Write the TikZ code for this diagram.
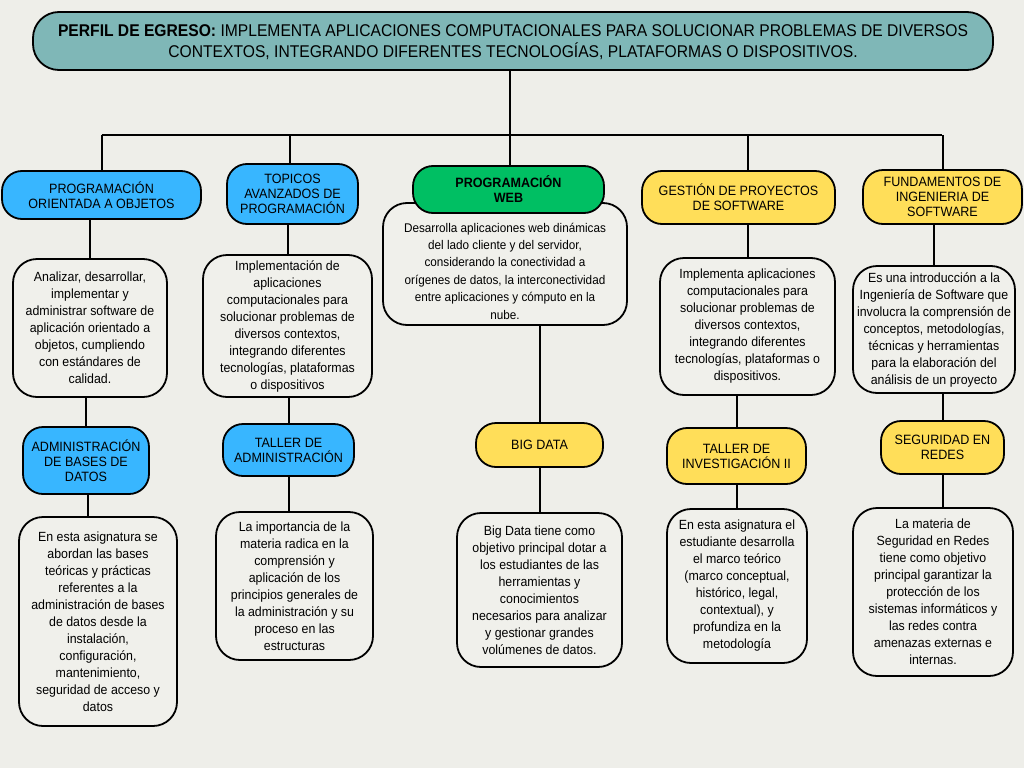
\documentclass[tikz,border=0pt]{standalone}
\usepackage{fontspec}
\setmainfont{Liberation Sans}[FakeStretch=0.93]
\newfontfamily\topfont{Liberation Sans}[FakeStretch=0.92]
\usetikzlibrary{backgrounds}
\definecolor{bgc}{RGB}{238,238,233}
\definecolor{descfill}{RGB}{240,240,235}
\definecolor{teal}{RGB}{127,183,183}
\definecolor{bluec}{RGB}{56,182,255}
\definecolor{greenc}{RGB}{0,191,99}
\definecolor{yellowc}{RGB}{255,222,89}
\tikzset{
  box/.style={draw=black, line width=1.8pt, align=center, inner sep=2pt},
  pill/.style={box, rounded corners=20pt, font=\fontsize{13.5}{15}\selectfont},
  bluepill/.style={pill, fill=bluec},
  greenpill/.style={pill, fill=greenc},
  yellowpill/.style={pill, fill=yellowc},
  desc/.style={box, fill=descfill, rounded corners=24pt, font=\fontsize{13.3}{17}\selectfont},
  desctext/.style={align=center, font=\fontsize{12.6}{17.4}\selectfont},
  conn/.style={draw=black, line width=2pt},
}
\begin{document}
\begin{tikzpicture}[x=1pt,y=-1pt]
\useasboundingbox (0,0) rectangle (1024,768);
% top
\node[box, fill=teal, rounded corners=26pt, minimum width=960pt, minimum height=58pt, font=\topfont\fontsize{17}{21}\selectfont] (top) at (513,41)
 {\rule{0pt}{14pt}\textbf{PERFIL DE EGRESO:} IMPLEMENTA APLICACIONES COMPUTACIONALES PARA SOLUCIONAR PROBLEMAS DE DIVERSOS\\CONTEXTOS, INTEGRANDO DIFERENTES TECNOLOGÍAS, PLATAFORMAS O DISPOSITIVOS.};
% level 1
\node[bluepill, minimum width=199pt, minimum height=48pt] (poo) at (101.5,195) {PROGRAMACIÓN\\ORIENTADA A OBJETOS};
\node[bluepill, minimum width=131pt, minimum height=60pt] (topi) at (292.5,194) {TOPICOS\\AVANZADOS DE\\PROGRAMACIÓN};
\node[desc, minimum width=244pt, minimum height=122pt] (webd) at (505,264) {};
\node[desctext] (webt) at (505,271) {Desarrolla aplicaciones web dinámicas\\del lado cliente y del servidor,\\considerando la conectividad a\\orígenes de datos, la interconectividad\\entre aplicaciones y cómputo en la\\nube.};
\node[greenpill, minimum width=191pt, minimum height=47pt, font=\bfseries\fontsize{13.5}{15}\selectfont] (web) at (508.5,189.5) {PROGRAMACIÓN\\WEB};
\node[yellowpill, minimum width=193pt, minimum height=53pt] (gest) at (738.5,197.5) {GESTIÓN DE PROYECTOS\\DE SOFTWARE};
\node[yellowpill, minimum width=159pt, minimum height=54pt] (fund) at (942.5,197) {FUNDAMENTOS DE\\INGENIERIA DE\\SOFTWARE};
% level 1 descriptions
\node[desc, minimum width=154pt, minimum height=138pt] (pood) at (90,328) {Analizar, desarrollar,\\implementar y\\administrar software de\\aplicación orientado a\\objetos, cumpliendo\\con estándares de\\calidad.};
\node[desc, minimum width=169pt, minimum height=142pt] (topd) at (287.5,326) {Implementación de\\aplicaciones\\computacionales para\\solucionar problemas de\\diversos contextos,\\integrando diferentes\\tecnologías, plataformas\\o dispositivos};
\node[desc, minimum width=175pt, minimum height=137pt] (gesd) at (747.5,326.5) {Implementa aplicaciones\\computacionales para\\solucionar problemas de\\diversos contextos,\\integrando diferentes\\tecnologías, plataformas o\\dispositivos.};
\node[desc, minimum width=162pt, minimum height=127pt] (fundd) at (934,329.5) {Es una introducción a la\\Ingeniería de Software que\\involucra la comprensión de\\conceptos, metodologías,\\técnicas y herramientas\\para la elaboración del\\análisis de un proyecto};
% level 2
\node[bluepill, minimum width=126pt, minimum height=67pt] (abd) at (86,460.5) {ADMINISTRACIÓN\\DE BASES DE\\DATOS};
\node[bluepill, minimum width=131pt, minimum height=52pt] (ta) at (288.5,450) {TALLER DE\\ADMINISTRACIÓN};
\node[yellowpill, minimum width=127pt, minimum height=44pt] (bd) at (539.5,445) {BIG DATA};
\node[yellowpill, minimum width=139pt, minimum height=56pt] (ti) at (736.5,456) {TALLER DE\\INVESTIGACIÓN II};
\node[yellowpill, minimum width=123pt, minimum height=53pt] (sr) at (942.5,447.5) {SEGURIDAD EN\\REDES};
% level 2 descriptions
\node[desc, minimum width=158pt, minimum height=209pt] (abdd) at (98,621.5) {En esta asignatura se\\abordan las bases\\teóricas y prácticas\\referentes a la\\administración de bases\\de datos desde la\\instalación,\\configuración,\\mantenimiento,\\seguridad de acceso y\\datos};
\node[desc, minimum width=157pt, minimum height=148pt] (tad) at (294.5,586) {La importancia de la\\materia radica en la\\comprensión y\\aplicación de los\\principios generales de\\la administración y su\\proceso en las\\estructuras};
\node[desc, minimum width=165pt, minimum height=154pt] (bdd) at (539.5,590) {Big Data tiene como\\objetivo principal dotar a\\los estudiantes de las\\herramientas y\\conocimientos\\necesarios para analizar\\y gestionar grandes\\volúmenes de datos.};
\node[desc, minimum width=140pt, minimum height=154pt] (tid) at (737,586) {En esta asignatura el\\estudiante desarrolla\\el marco teórico\\(marco conceptual,\\histórico, legal,\\contextual), y\\profundiza en la\\metodología};
\node[desc, minimum width=160pt, minimum height=168pt] (srd) at (933,592) {La materia de\\Seguridad en Redes\\tiene como objetivo\\principal garantizar la\\protección de los\\sistemas informáticos y\\las redes contra\\amenazas externas e\\internas.};
\coordinate (busy) at (0,135);
\begin{pgfonlayer}{background}
\fill[bgc] (0,0) rectangle (1024,768);
\draw[conn] ([xshift=-3pt]top.south |- busy) -- ([xshift=-3pt]top.south);
\draw[conn] (poo.north |- busy) -- ([xshift=-0.5pt]fund.north |- busy);
\draw[conn] (poo.north |- busy) -- (poo.north);
\draw[conn] ([xshift=-3pt]topi.north |- busy) -- ([xshift=-3pt]topi.north);
\draw[conn] ([xshift=1.5pt]web.north |- busy) -- ([xshift=1.5pt]web.north);
\draw[conn] ([xshift=9.5pt]gest.north |- busy) -- ([xshift=9.5pt]gest.north);
\draw[conn] (fund.north |- busy) -- (fund.north);
\draw[conn] (pood.north |- poo.south) -- (pood.north);
\draw[conn] (topd.north |- topi.south) -- (topd.north);
\draw[conn] (gesd.north |- gest.south) -- (gesd.north);
\draw[conn] (fundd.north |- fund.south) -- (fundd.north);
\draw[conn] (abd.north |- pood.south) -- (abd.north);
\draw[conn] (ta.north |- topd.south) -- (ta.north);
\draw[conn] (bd.north |- webd.south) -- (bd.north);
\draw[conn] (ti.north |- gesd.south) -- (ti.north);
\draw[conn] (sr.north |- fundd.south) -- (sr.north);
\draw[conn] ([xshift=2pt]abd.south) -- ([xshift=2pt]abd.south |- abdd.north);
\draw[conn] (ta.south) -- (ta.south |- tad.north);
\draw[conn] (bdd.north |- bd.south) -- (bdd.north);
\draw[conn] (tid.north |- ti.south) -- (tid.north);
\draw[conn] (sr.south) -- (sr.south |- srd.north);
\end{pgfonlayer}
\end{tikzpicture}
\end{document}
